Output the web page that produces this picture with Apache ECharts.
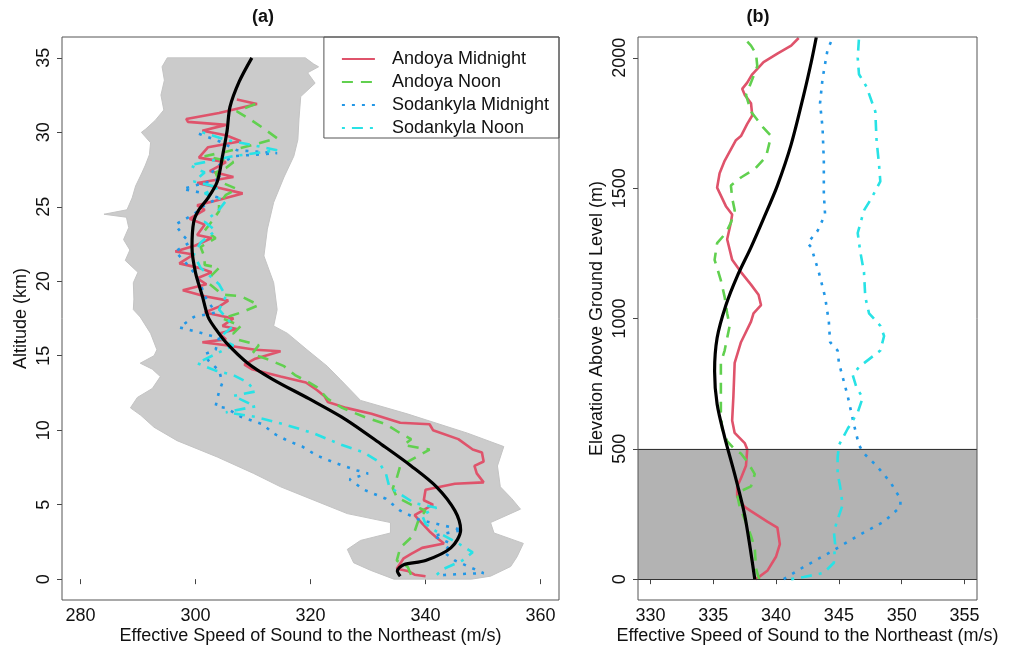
<!DOCTYPE html>
<html>
<head>
<meta charset="utf-8">
<script src="https://cdn.jsdelivr.net/npm/echarts@6/dist/echarts.min.js"></script>
<style>
html,body{margin:0;padding:0;background:#fff;}
#chart{width:1010px;height:647px;}
</style>
</head>
<body>
<div id="chart"></div>
<script>
// ---------------- Panel (a): altitude (km) vs effective sound speed (m/s) ----------------
const xTicksA = [280, 300, 320, 340, 360];
const yTicksA = [0, 5, 10, 15, 20, 25, 30, 35];

// gray ensemble envelope (left edge bottom->top, right edge top->bottom)
const envLeftAlt = [0.0,0.6,1.1,2.0,2.6,3.1,3.8,4.4,5.3,6.2,7.1,8.2,9.3,10.2,11.0,11.5,12.2,12.8,13.6,14.1,14.5,15.0,15.4,16.5,17.6,18.1,18.8,19.9,20.6,21.4,22.1,22.8,23.6,24.3,24.5,24.8,25.6,26.4,27.2,27.8,28.5,29.3,30.0,30.2,30.8,31.5,32.5,33.5,34.4,35.0];
const envLeftSpd = [334.5,330.4,327.5,326.4,328.7,333.9,333.9,326.4,320.6,314.8,310.1,303.8,296.8,292.8,290.5,288.7,289.9,292.5,293.9,292.5,290.4,292.8,293.3,292.2,290.4,289.2,289.3,289.2,290.0,287.8,288.6,287.5,288.4,288.0,284.1,288.1,289.0,289.6,290.6,291.3,292.0,292.2,290.6,291.3,293.0,294.5,294.0,294.6,294.2,295.1];
const envRightAlt = [35.0,34.6,34.4,34.0,33.3,32.4,30.9,29.5,28.4,27.0,25.3,23.5,21.7,19.9,18.1,17.0,16.5,15.4,14.3,13.4,12.0,11.1,9.8,8.9,7.6,6.2,5.4,4.7,3.8,3.1,2.4,1.5,0.85,0.2,0.0];
const envRightSpd = [319.1,320.5,321.4,319.5,320.8,318.3,318.0,317.8,317.1,315.4,313.6,312.5,311.9,313.6,314.2,313.6,316.0,319.4,322.9,325.2,328.7,336.8,347.3,353.6,352.5,353.0,355.0,356.5,351.3,351.9,357.0,355.9,354.8,351.3,348.0];

const meanA_alt = [35,33.4,31.7,30.1,28.4,26.7,25.6,24.8,24.0,22.3,20.6,19.0,17.6,16.8,15.9,14.5,13.4,12.1,10.7,9.0,7.6,6.2,4.6,3.3,2.1,1.25,0.97,0.55,0.2];
const meanA_spd = [309.8,307.6,306.0,305.5,304.7,303.8,302.2,300.6,299.7,299.4,300.0,301.2,302.2,303.5,305.3,309.1,313.5,319.8,326.2,332.5,337.5,341.9,345.1,346.1,344.4,340.0,336.2,335.1,335.6];

const andMidA_alt = [32.2,31.9,31.3,30.9,30.7,30.5,30.1,29.8,29.4,29.0,28.3,28.0,27.4,27.0,26.6,26.3,25.9,25.4,25.1,24.8,24.2,23.8,23.1,22.9,22.4,22.0,21.8,21.2,20.9,20.6,20.2,19.8,19.4,19.0,18.7,18.3,17.9,17.5,17.0,16.8,16.5,16.1,15.9,15.7,15.4,15.3,14.8,14.4,14.1,13.6,13.2,12.7,12.3,11.9,11.5,11.1,10.5,10.4,10.0,9.4,8.7,8.5,7.9,7.6,7.1,6.5,6.4,6.0,5.3,5.0,4.3,4.0,3.2,2.8,2.4,2.1,1.7,1.4,0.7,0.55,0.3,0.2];
const andMidA_spd = [307.2,310.7,304.1,298.4,298.7,305.3,301.2,305.3,307.9,302.2,300.6,305.3,302.5,306.6,300.3,303.8,308.2,303.5,300.3,301.6,299.0,301.6,300.3,302.8,300.0,296.5,299.7,297.2,300.6,302.8,300.3,301.9,297.8,301.6,305.7,304.1,301.6,306.6,304.7,307.2,304.1,305.3,301.2,305.3,310.4,314.8,310.4,308.5,309.8,314.8,319.2,321.1,322.4,323.0,326.2,330.6,335.6,340.7,341.3,345.7,348.2,349.8,350.1,348.5,348.9,350.1,345.1,340.0,339.7,341.3,338.1,338.8,340.7,341.9,343.2,339.4,337.5,336.2,335.0,336.9,338.1,340.0];

const andNoonA_alt = [31.9,31.4,30.8,30.3,29.6,29.2,28.7,28.4,28.0,27.6,27.3,26.7,26.2,25.8,25.2,24.7,24.0,23.4,22.9,22.3,21.6,21.1,20.9,20.4,19.8,19.1,19.0,18.4,17.9,17.5,17.0,16.5,16.1,15.7,15.1,14.8,14.3,13.7,13.2,12.9,12.1,11.5,10.9,10.4,9.8,9.4,9.0,8.7,7.6,6.8,6.1,5.5,5.0,4.6,4.0,3.2,2.8,2.1,1.25,0.83,0.28,0];
const andNoonA_spd = [310.4,307.2,309.8,311.7,314.2,310.4,305.3,301.6,306.6,305.3,303.5,304.1,307.2,305.3,304.1,304.1,302.8,301.6,303.5,300.9,301.6,301.6,304.1,302.8,302.5,304.7,307.9,311.0,307.9,304.7,307.9,306.6,307.2,311.0,309.8,312.3,315.4,317.3,319.8,321.1,323.0,325.5,329.3,333.1,335.6,337.5,336.2,340.7,335.6,335.0,334.3,335.0,337.5,340.0,338.8,338.1,337.5,335.6,335.0,336.9,337.5,338.1];

const sodMidA_alt = [29.9,29.4,28.8,28.6,28.4,27.8,27.3,26.9,26.6,26.2,25.9,25.6,25.1,24.5,23.8,23.1,22.6,22.0,21.2,20.6,19.8,19.0,17.9,17.6,16.9,16.6,16.2,15.4,15.1,14.7,14.0,13.2,12.6,11.6,11.5,10.9,10.4,9.8,9.3,8.9,8.3,7.8,7.3,7.1,6.7,6.0,5.4,4.6,4.0,3.3,2.9,2.4,1.8,1.25,0.4,0.36,0.28,0.2];
const sodMidA_spd = [300.6,304.1,307.2,314.2,306.6,304.1,302.8,304.7,301.6,297.8,301.6,304.1,301.6,299.7,296.5,297.8,299.0,296.5,298.4,299.7,300.9,301.6,303.5,299.7,297.2,300.3,304.1,303.5,301.6,302.2,304.1,304.7,304.1,303.5,305.3,307.9,311.7,313.5,316.0,318.6,321.1,324.3,328.1,330.0,326.8,329.3,333.1,335.6,338.8,346.4,341.3,344.4,343.2,345.1,350.1,347.0,343.2,341.9];

const sodNoonA_alt = [30.0,29.5,29.1,28.8,28.4,28.0,27.8,27.3,26.7,26.3,25.9,25.4,24.8,24.0,23.4,22.6,21.8,20.9,19.8,19.0,18.1,17.0,16.2,15.7,14.5,14.0,13.7,13.2,12.6,12.3,11.6,11.2,10.9,10.4,9.8,9.0,8.5,7.9,7.1,6.2,5.7,5.1,4.8,4.3,3.7,3.2,2.4,1.8,1.25,0.7,0.28];
const sodNoonA_spd = [301.2,305.3,310.4,314.2,306.6,301.6,299.0,301.6,299.7,304.1,301.6,305.3,304.1,301.6,303.5,300.9,299.7,300.9,304.1,305.3,304.1,306.6,304.1,306.6,300.3,303.5,306.6,309.1,310.4,306.6,310.4,305.3,310.4,315.4,320.5,325.5,329.3,331.8,333.1,333.7,335.6,338.1,341.9,339.4,340.0,341.9,345.7,348.2,346.4,343.2,341.9];

// ---------------- Panel (b): elevation AGL (m), 0-2000 m ----------------
const xTicksB = [330, 335, 340, 345, 350, 355];
const yTicksB = [0, 500, 1000, 1500, 2000];
const shadeB = [0, 500];

const meanB_alt = [0,245,403,545,672,798,925,1051,1162,1273,1383,1510,1668,1858,1984,2079];
const meanB_spd = [338.3,337.5,336.7,335.9,335.3,335.1,335.3,336.0,336.9,338.0,339.0,340.1,341.2,342.2,342.8,343.2];

const andMidB_alt = [0,32,87,134,198,221,261,277,316,356,387,435,498,522,561,609,703,830,909,988,1020,1051,1091,1130,1178,1225,1304,1368,1399,1431,1502,1557,1605,1684,1700,1747,1779,1826,1858,1881,1905,1937,1984,2016,2047,2076];
const andMidB_spd = [338.4,339.3,340.0,340.3,340.1,339.3,338.0,337.5,336.9,336.9,337.2,337.6,337.7,337.5,336.7,336.5,336.6,336.7,337.2,338.0,338.2,338.8,338.6,338.0,337.2,336.5,336.1,336.4,336.5,336.0,335.3,335.5,335.9,336.8,337.2,337.7,338.1,338.0,337.5,337.3,337.7,338.1,339.0,340.1,341.2,341.8];

const andNoonB_alt = [0,40,119,166,229,277,324,340,356,403,419,451,482,498,530,577,640,719,830,877,925,972,1020,1083,1146,1194,1225,1289,1328,1368,1415,1462,1510,1541,1573,1621,1700,1731,1794,1858,1905,1968,2016,2047,2063];
const andNoonB_spd = [338.65,338.4,338.3,338.0,337.5,337.1,336.9,337.3,338.0,338.3,338.1,337.7,337.2,336.7,336.1,335.7,335.6,335.6,335.6,335.9,336.1,336.3,336.1,335.9,335.6,335.3,335.1,335.3,336.0,336.4,336.7,336.5,336.4,337.2,338.3,339.2,339.6,339.0,338.0,337.6,338.0,338.5,338.4,338.0,337.7];

const sodMidB_alt = [0,47,103,166,221,277,308,372,435,482,514,593,703,830,877,909,988,1083,1178,1273,1289,1336,1399,1478,1605,1731,1826,1921,2032,2076];
const sodMidB_spd = [340.6,342.2,344.3,346.5,348.6,349.9,349.9,349.1,348.0,347.0,346.6,346.2,345.7,345.0,344.9,344.3,344.2,343.9,343.4,342.8,342.5,343.3,343.9,343.8,343.8,343.7,343.5,343.7,344.1,344.5];

const sodNoonB_alt = [0,8,24,63,134,182,229,285,356,403,466,514,577,640,696,735,783,814,877,933,972,1020,1083,1178,1257,1328,1415,1462,1526,1589,1684,1794,1889,1937,2000,2076];
const sodNoonB_spd = [341.2,342.2,343.8,344.6,344.7,344.6,344.9,345.3,345.1,344.9,344.9,345.0,345.7,346.5,346.9,346.4,346.1,346.6,348.3,348.6,348.3,347.4,347.1,347.0,346.7,346.5,347.0,347.6,348.3,348.2,348.0,347.9,347.2,346.6,346.5,346.6];

const seriesNames = ['Andoya Midnight', 'Andoya Noon', 'Sodankyla Midnight', 'Sodankyla Noon'];
const seriesColors = ['#DF536B', '#61D04F', '#2297E6', '#28E2E5'];
const seriesDash = ['solid', [11, 8], [3, 7], [3, 7, 11, 7]];

// ---------------- build ----------------
const FONT = 'Liberation Sans, Arial, Helvetica, sans-serif';
function pairs(xs, ys) { return xs.map((x, i) => [x, ys[i]]); }

const envPoly = pairs(envLeftSpd, envLeftAlt).concat(pairs(envRightSpd, envRightAlt));

function axisX(gi, min, max, interval, name, ticks) {
  return {
    type: 'value', gridIndex: gi, min: min, max: max, interval: interval,
    name: name, nameLocation: 'middle', nameGap: 27, nameMoveOverlap: false,
    nameTextStyle: { fontSize: 18, color: '#111', fontFamily: FONT },
    axisLine: { show: false },
    axisTick: { show: true, length: 5, lineStyle: { color: '#444' }, customValues: ticks },
    axisLabel: { fontSize: 18, color: '#111', fontFamily: FONT, margin: 7, customValues: ticks, formatter: v => String(v) },
    splitLine: { show: false }
  };
}
function axisY(gi, min, max, interval, name, ticks) {
  return {
    type: 'value', gridIndex: gi, min: min, max: max, interval: interval,
    name: name, nameLocation: 'middle', nameGap: 32, nameMoveOverlap: false,
    nameTextStyle: { fontSize: 18, color: '#111', fontFamily: FONT },
    axisLine: { show: false },
    axisTick: { show: true, length: 5, lineStyle: { color: '#444' }, customValues: ticks },
    axisLabel: { fontSize: 18, color: '#111', fontFamily: FONT, rotate: 90, margin: 9, customValues: ticks, formatter: v => String(v) },
    splitLine: { show: false }
  };
}

const series = [];
// gray envelope
series.push({
  type: 'custom', xAxisIndex: 0, yAxisIndex: 0, silent: true, z: 1,
  data: [0],
  renderItem: function (params, api) {
    const pts = envPoly.map(p => api.coord(p));
    return { type: 'polygon', shape: { points: pts }, style: { fill: '#cbcbcb', stroke: '#c4c4c4', lineWidth: 1 } };
  }
});
// panel b shading
series.push({
  type: 'line', xAxisIndex: 1, yAxisIndex: 1, data: [], silent: true, z: 1,
  markArea: { silent: true, itemStyle: { color: '#b3b3b3' }, data: [[{ yAxis: shadeB[0] }, { yAxis: shadeB[1] }]] },
  markLine: { silent: true, symbol: 'none', label: { show: false }, lineStyle: { color: '#333', width: 1.2, type: 'solid' },
    data: shadeB.map(v => ({ yAxis: v })) }
});

const aData = [[andMidA_spd, andMidA_alt], [andNoonA_spd, andNoonA_alt], [sodMidA_spd, sodMidA_alt], [sodNoonA_spd, sodNoonA_alt]];
const bData = [[andMidB_spd, andMidB_alt], [andNoonB_spd, andNoonB_alt], [sodMidB_spd, sodMidB_alt], [sodNoonB_spd, sodNoonB_alt]];
[aData, bData].forEach((set, gi) => {
  set.forEach((d, k) => {
    series.push({
      name: seriesNames[k], type: 'line', xAxisIndex: gi, yAxisIndex: gi,
      data: pairs(d[0], d[1]), showSymbol: false, symbol: 'none', z: 3 + k, silent: true,
      lineStyle: { color: seriesColors[k], width: 2.6, type: seriesDash[k] },
      itemStyle: { color: seriesColors[k] }
    });
  });
});
series.push({ type: 'line', xAxisIndex: 0, yAxisIndex: 0, data: pairs(meanA_spd, meanA_alt), smooth: 0.3, showSymbol: false, symbol: 'none', z: 8, silent: true, lineStyle: { color: '#000', width: 3.2 } });
series.push({ type: 'line', xAxisIndex: 1, yAxisIndex: 1, data: pairs(meanB_spd, meanB_alt), smooth: 0.3, showSymbol: false, symbol: 'none', z: 8, silent: true, lineStyle: { color: '#000', width: 3.2 } });

const chart = echarts.init(document.getElementById('chart'), null, { renderer: 'canvas' });
chart.setOption({
  animation: false,
  backgroundColor: '#fff',
  textStyle: { fontFamily: FONT },
  grid: [
    { left: 62, top: 37, width: 497, height: 563, outerBoundsMode: 'none', containLabel: false, show: true, borderColor: '#555', borderWidth: 1, backgroundColor: 'transparent', z: 10 },
    { left: 638, top: 37, width: 339, height: 563, outerBoundsMode: 'none', containLabel: false, show: true, borderColor: '#555', borderWidth: 1, backgroundColor: 'transparent', z: 10 }
  ],
  xAxis: [
    axisX(0, 276.8, 363.2, 20, 'Effective Speed of Sound to the Northeast (m/s)', xTicksA),
    axisX(1, 329, 356, 5, 'Effective Speed of Sound to the Northeast (m/s)', xTicksB)
  ],
  yAxis: [
    axisY(0, -1.4, 36.4, 5, 'Altitude (km)', yTicksA),
    axisY(1, -80, 2080, 500, 'Elevation Above Ground Level (m)', yTicksB)
  ],
  legend: {
    show: true, orient: 'vertical', right: 451, top: 37,
    data: seriesNames,
    backgroundColor: '#fff', borderColor: '#555', borderWidth: 1,
    padding: [13, 10, 1, 17], itemGap: 5, itemWidth: 33, itemHeight: 14,
    itemStyle: { opacity: 0 },
    textStyle: { fontSize: 18, color: '#111', fontFamily: FONT, padding: [0, 0, 0, 12] }
  },
  graphic: [
    { type: 'text', x: 263, y: 17, style: { text: '(a)', font: 'bold 18px ' + FONT, fill: '#111', align: 'center', verticalAlign: 'middle' } },
    { type: 'text', x: 758, y: 17, style: { text: '(b)', font: 'bold 18px ' + FONT, fill: '#111', align: 'center', verticalAlign: 'middle' } }
  ],
  series: series
});
</script>
</body>
</html>
